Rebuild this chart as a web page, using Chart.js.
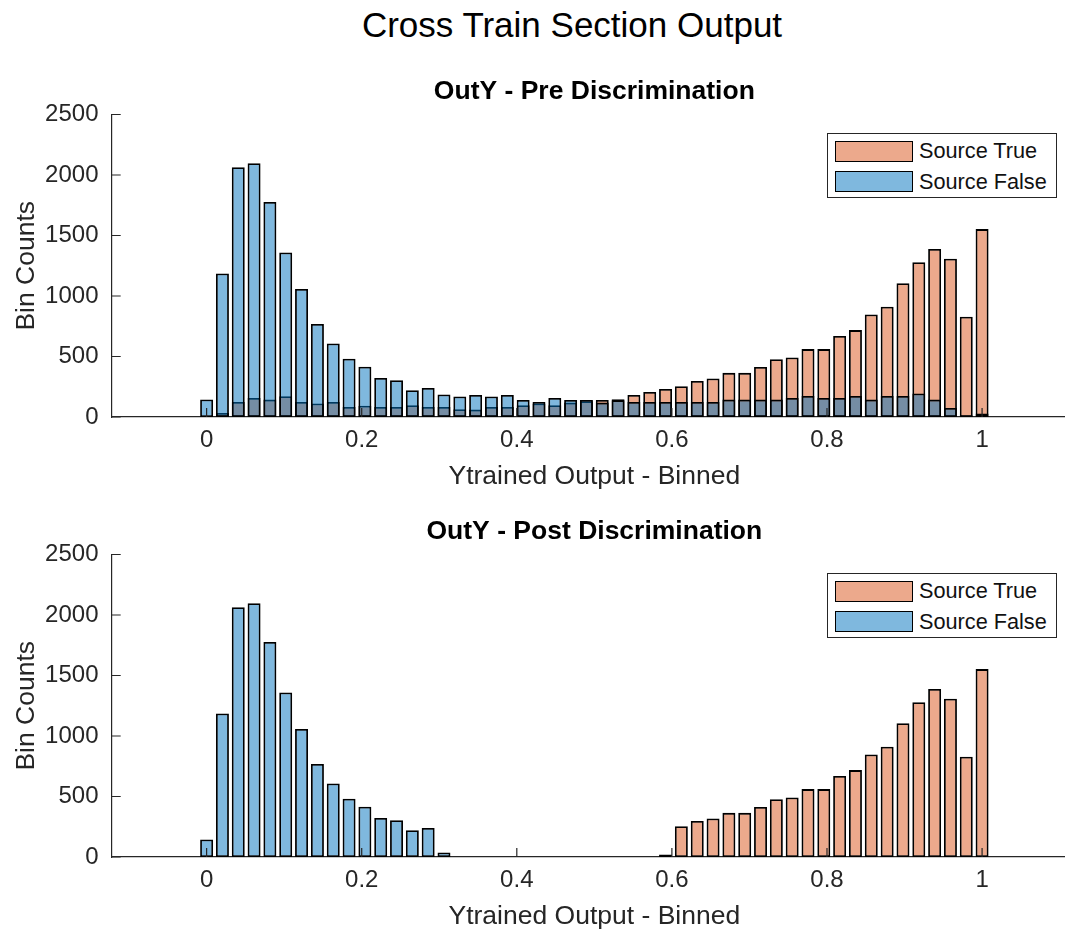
<!DOCTYPE html>
<html>
<head>
<meta charset="utf-8">
<script src="https://cdn.jsdelivr.net/npm/chart.js@4.4.1/dist/chart.umd.min.js"></script>
<style>
html,body{margin:0;padding:0;background:#fff;overflow:hidden;width:1065px;height:933px;}
body{font-family:"Liberation Sans",Arial,Helvetica,sans-serif;}
#fig{position:relative;width:1100px;height:933px;}
.suptitle{position:absolute;left:0;top:5px;width:1144px;text-align:center;font-size:35px;line-height:40px;color:#000;}
.panel{position:absolute;left:0;width:1100px;height:500px;}
.panel canvas{display:block;}
.legend{position:absolute;left:827px;width:230px;height:65px;border:1.2px solid #262626;background:#fff;box-sizing:border-box;}
.legend-item{position:absolute;left:7px;height:22px;display:flex;align-items:center;font-size:21.7px;color:#111;white-space:nowrap;}
.swatch{width:78px;height:21px;box-sizing:border-box;border:1.8px solid #000;margin-right:6px;}
</style>
</head>
<body>
<div id="fig">
  <div class="suptitle">Cross Train Section Output</div>
  <div class="panel" style="top:0px"><canvas id="pre" width="1100" height="500"></canvas></div>
  <div class="panel" style="top:440px"><canvas id="post" width="1100" height="500"></canvas></div>
  <div class="legend" id="legPre" style="top:133px"></div>
  <div class="legend" id="legPost" style="top:573px"></div>
</div>
<script>
/* bin centres (50 bins from 0 to 1) */
const binCenters = [0,0.0204,0.0408,0.0612,0.0816,0.1020,0.1224,0.1429,0.1633,0.1837,
0.2041,0.2245,0.2449,0.2653,0.2857,0.3061,0.3265,0.3469,0.3673,0.3878,
0.4082,0.4286,0.4490,0.4694,0.4898,0.5102,0.5306,0.5510,0.5714,0.5918,
0.6122,0.6327,0.6531,0.6735,0.6939,0.7143,0.7347,0.7551,0.7755,0.7959,
0.8163,0.8367,0.8571,0.8776,0.8980,0.9184,0.9388,0.9592,0.9796,1];

/* pre discrimination */
const preTrue = [0,33,124,157,144,171,124,111,124,83,
93,83,83,97,83,83,65,61,83,83,
97,111,97,119,130,141,147,182,207,232,
254,298,318,365,365,414,478,492,561,561,
669,718,848,911,1105,1279,1389,1308,829,1553];
const preFalse = [145,1186,2064,2097,1777,1360,1058,768,607,481,
415,322,304,222,240,186,170,182,169,182,
141,124,157,141,141,119,138,124,124,124,
124,124,124,144,144,144,144,157,174,157,
157,174,144,174,174,194,144,75,14,28];

/* post discrimination */
const postTrue = [0,0,0,0,0,0,0,0,0,0,
0,0,0,0,0,0,0,0,0,0,
0,0,0,0,0,0,0,0,0,20,
254,298,318,365,365,414,478,492,561,561,
669,718,848,911,1105,1279,1389,1308,829,1553];
const postFalse = [145,1186,2064,2097,1777,1360,1058,768,607,481,
415,322,304,222,240,38,0,0,0,0,
0,0,0,0,0,0,0,0,0,0,
0,0,0,0,0,0,0,0,0,0,
0,0,0,0,0,0,0,0,0,0];

const xTicks = [0,0.2,0.4,0.6,0.8,1];
const yTicks = [0,500,1000,1500,2000,2500];
const xMin = -0.1224, xMax = 1.1224;

const seriesNames = ["Source True","Source False"];
const orangeFill = "rgba(217,83,25,0.5)";
const blueFill = "rgba(0,114,189,0.5)";
const axisColor = "#262626";

Chart.defaults.font.family = '"Liberation Sans", Arial, Helvetica, sans-serif';

/* matlab style ticks pointing into the axes */
const innerTicks = {
  id:"innerTicks",
  afterDraw(chart){
    const {ctx, chartArea:a, scales:{x,y}} = chart;
    ctx.save();
    ctx.strokeStyle = axisColor;
    ctx.lineWidth = 1.2;
    ctx.beginPath();
    x.ticks.forEach(t=>{
      const px = x.getPixelForValue(t.value);
      ctx.moveTo(px, a.bottom); ctx.lineTo(px, a.bottom-9);
    });
    y.ticks.forEach(t=>{
      const py = y.getPixelForValue(t.value);
      ctx.moveTo(a.left, py); ctx.lineTo(a.left+9, py);
    });
    ctx.stroke();
    ctx.restore();
  }
};

function makeHist(id, title, trueVals, falseVals){
  new Chart(document.getElementById(id),{
    type:"bar",
    data:{
      datasets:[
        {label:seriesNames[0], data:binCenters.map((x,i)=>({x:x,y:trueVals[i]})), backgroundColor:orangeFill, order:2},
        {label:seriesNames[1], data:binCenters.map((x,i)=>({x:x,y:falseVals[i]})), backgroundColor:blueFill, order:1}
      ]
    },
    options:{
      responsive:false,
      animation:false,
      layout:{padding:{top:75.3,left:0,right:23,bottom:0}},
      datasets:{bar:{grouped:false, barPercentage:0.82, categoryPercentage:1, borderColor:"#000", borderWidth:1.8, borderSkipped:false}},
      plugins:{
        legend:{display:false},
        tooltip:{enabled:false},
        title:{display:true, text:title, fullSize:false, color:"#000",
          font:{size:26.5, weight:"bold"}, padding:{top:0,bottom:7.4}}
      },
      scales:{
        x:{
          type:"linear", min:xMin, max:xMax, offset:false,
          afterBuildTicks:s=>{ s.ticks = xTicks.map(v=>({value:v})); },
          afterFit:s=>{ s.height = 83; },
          grid:{display:false, drawTicks:false},
          border:{display:true, color:axisColor, width:1.2},
          ticks:{font:{size:24}, color:axisColor, padding:8.6, maxRotation:0, autoSkip:false, callback:v=>String(v)},
          title:{display:true, text:"Ytrained Output - Binned", color:axisColor, font:{size:26.5}, padding:{top:0,bottom:7.4}}
        },
        y:{
          min:0, max:2500,
          afterBuildTicks:s=>{ s.ticks = yTicks.map(v=>({value:v})); },
          afterFit:s=>{ s.width = 111.7; },
          grid:{display:false, drawTicks:false},
          border:{display:true, color:axisColor, width:1.2},
          ticks:{font:{size:24}, color:axisColor, padding:13.2, callback:v=>String(v)},
          title:{display:true, text:"Bin Counts", color:axisColor, font:{size:26.5}, padding:{top:10.4,bottom:0}}
        }
      }
    },
    plugins:[innerTicks]
  });
}

makeHist("pre","OutY - Pre Discrimination",preTrue,preFalse);
makeHist("post","OutY - Post Discrimination",postTrue,postFalse);

/* legend boxes */
function makeLegend(id){
  const box = document.getElementById(id);
  [orangeFill, blueFill].forEach((c,i)=>{
    const el = document.createElement("div");
    el.className = "legend-item";
    el.style.top = (i===0 ? 6 : 36.5) + "px";
    el.innerHTML = `<div class="swatch" style="background:${c}"></div>${seriesNames[i]}`;
    box.appendChild(el);
  });
}
makeLegend("legPre");
makeLegend("legPost");
</script>
</body>
</html>
